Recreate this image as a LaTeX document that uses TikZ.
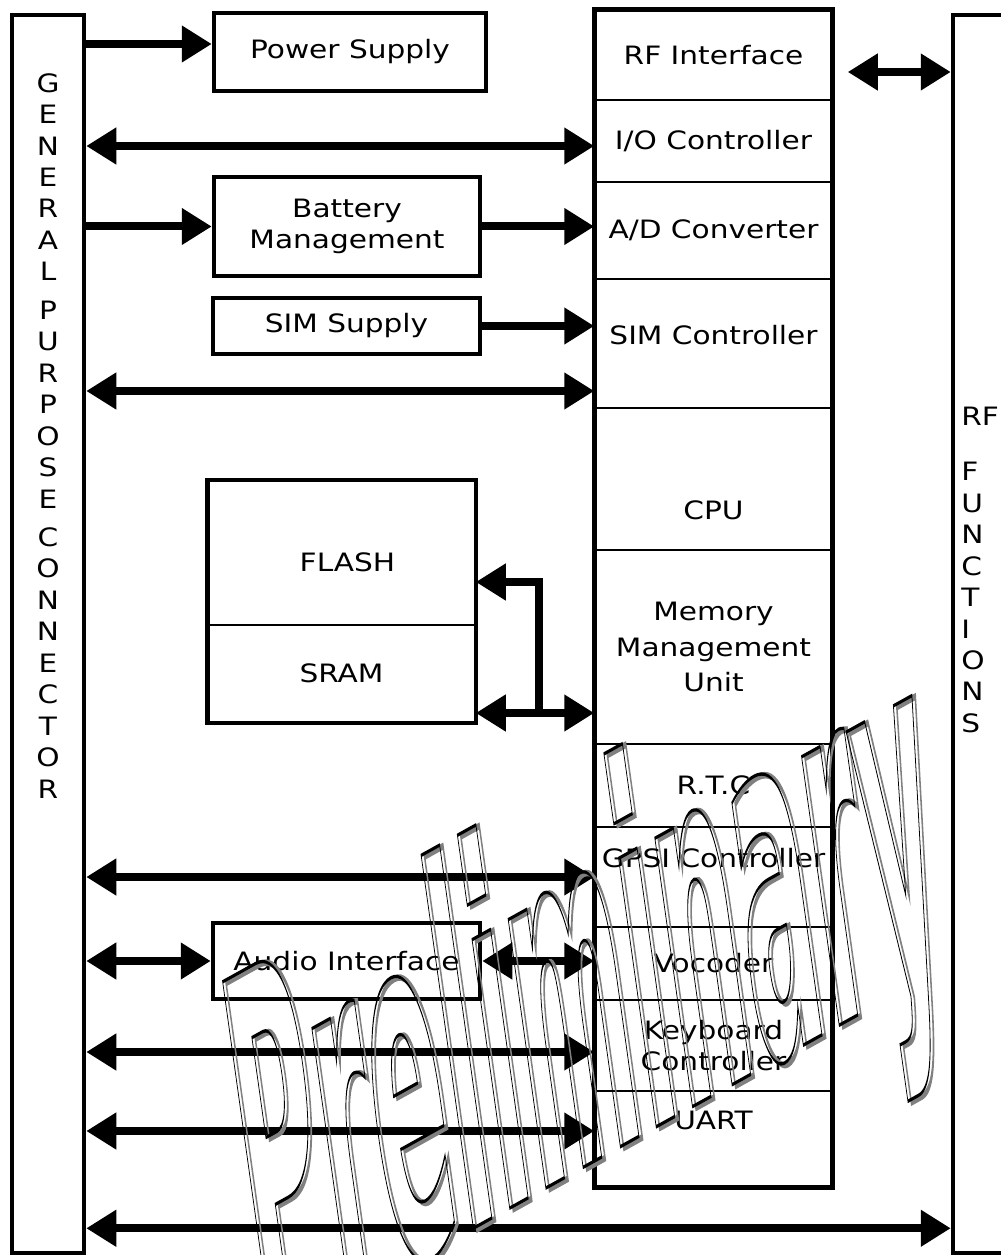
\documentclass[tikz,border=0pt]{standalone}
\usepackage{fontspec}
\setmainfont{DejaVu Sans}[FakeStretch=1.17]
\newfontfamily\wmfont{DejaVu Sans}
\usepackage{tikz}
\usetikzlibrary{arrows.meta,positioning}
% outlined text for the watermark (text render mode 1)
\newcommand{\outlineon}[1]{\special{pdf:literal direct 1 Tr #1 w}}
\newcommand{\outlineoff}{\special{pdf:literal direct 0 Tr}}

\begin{document}
\begin{tikzpicture}[x=0.2mm, y=-0.2mm,
    lbl/.style={font=\fontsize{14.4pt}{17.9pt}\selectfont, align=center},
    blk/.style={draw, line width=0.9mm, inner sep=0pt, lbl},
    sect/.style={draw, line width=0.3mm, inner sep=0pt, minimum width=47.4mm, lbl},
    bus/.style={line width=1.6mm, {Triangle[length=6mm, width=7mm]}-{Triangle[length=6mm, width=7mm]}},
    feed/.style={line width=1.6mm, -{Triangle[length=6mm, width=7mm]}},
    wm/.style={transform shape, anchor=base west, inner sep=0pt, font=\wmfont\bfseries\fontsize{301pt}{301pt}\selectfont}]
    \useasboundingbox (0,0) rectangle (1000,1255);

    % General purpose connector (left) and RF functions (right)
    \node[blk, minimum width=14.4mm, minimum height=247.6mm] (gpc) at (48,634) {};
    \node[lbl, anchor=north, inner sep=0pt] (gpclbl) at (48,73)
        {G\\E\\N\\E\\R\\A\\L\\[1.4mm]P\\U\\R\\P\\O\\S\\E\\[1.4mm]C\\O\\N\\N\\E\\C\\T\\O\\R};
    \node[blk, minimum width=20mm, minimum height=247.6mm] (rff) at (1003,634) {};
    \node[lbl, align=left, anchor=north west, inner sep=0pt] (rfflbl) at (961,407)
        {RF\\[4.7mm]F\\U\\N\\C\\T\\I\\O\\N\\S};

    % Blocks between the connector and the chip
    \node[blk, minimum width=54.4mm, minimum height=15.6mm] (pwr) at (350,52) {Power Supply};
    \node[blk, minimum width=53.2mm, minimum height=19.8mm] (bat) at (347,226.5) {Battery\\Management};
    \node[blk, minimum width=53.4mm, minimum height=11.2mm] (simsup) at (346.5,326) {SIM Supply};
    \node[sect, minimum width=53.4mm, minimum height=28.8mm, label={[lbl, xshift=1.2mm, yshift=-1.8mm]center:FLASH}] (flash) at (341.5,553) {};
    \node[sect, minimum width=53.4mm, minimum height=19.4mm] (sram) at (341.5,673.5) {SRAM};
    \draw[line width=0.9mm] (flash.north west) rectangle (sram.south east);
    \node[blk, minimum width=53.4mm, minimum height=15.2mm] (audio) at (346.5,961) {Audio Interface};

    % Chip sections
    \node[sect, minimum height=18mm] (rfi) at (713.5,55) {RF Interface};
    \node[sect, minimum height=16.4mm] (io) at (713.5,141) {I/O Controller};
    \node[sect, minimum height=19.4mm] (adc) at (713.5,230.5) {A/D Converter};
    \node[sect, minimum height=25.8mm, label={[lbl, yshift=1.7mm]center:SIM Controller}] (simc) at (713.5,343.5) {};
    \node[sect, minimum height=28.4mm, label={[lbl, yshift=-6.2mm]center:CPU}] (cpu) at (713.5,479) {};
    \node[sect, minimum height=38.8mm, font=\fontsize{14.4pt}{20.4pt}\selectfont] (mmu) at (713.5,647) {Memory\\Management\\Unit};
    \node[sect, minimum height=16.6mm] (rtc) at (713.5,785.5) {R.T.C};
    \node[sect, minimum height=20mm, label={[lbl, yshift=3.8mm]center:GPSI Controller}] (gpsi) at (713.5,877) {};
    \node[sect, minimum height=14.6mm] (voc) at (713.5,963.5) {Vocoder};
    \node[sect, minimum height=18.2mm] (kbd) at (713.5,1045.5) {Keyboard\\Controller};
    \node[sect, minimum height=19.2mm, label={[lbl, yshift=3.8mm]center:UART}] (uart) at (713.5,1139) {};
    \draw[line width=1mm] (rfi.north west) rectangle (uart.south east);

    % Arrows
    \coordinate (pwrin) at ([yshift=1.6mm]pwr.west);
    \draw[feed] (pwrin -| gpc.east) -- (pwrin);
    \coordinate (ioin) at ([yshift=-1mm]io.west);
    \draw[bus] (ioin -| gpc.east) -- (ioin);
    \draw[feed] (bat.west -| gpc.east) -- (bat.west);
    \draw[feed] (bat.east) -- (bat.east -| adc.west);
    \draw[feed] (simsup.east) -- (simsup.east -| simc.west);
    \coordinate (simin) at ([yshift=-9.5mm]simc.west);
    \draw[bus] (simin -| gpc.east) -- (simin);

    % memory bus
    \coordinate (sramout) at ([yshift=-7.9mm]sram.east);
    \coordinate (flashin) at ([yshift=-5.8mm]flash.east);
    \draw[bus] (sramout) -- (sramout -| mmu.west);
    \draw[feed] ([xshift=12.6mm]sramout) |- (flashin);

    \draw[bus] (gpsi.west -| gpc.east) -- (gpsi.west);
    \draw[bus] (audio.west -| gpc.east) -- (audio.west);
    \draw[bus] (audio.east) -- (audio.east -| voc.west);
    \coordinate (kbdin) at ([yshift=-1.3mm]kbd.west);
    \draw[bus] (kbdin -| gpc.east) -- (kbdin);
    \coordinate (uartin) at ([yshift=1.6mm]uart.west);
    \draw[bus] (uartin -| gpc.east) -- (uartin);
    \coordinate (rfbus) at ([yshift=5.4mm]gpc.south east);
    \draw[bus] (rfbus) -- (rfbus -| rff.west);
    \coordinate (rfout) at ([xshift=3mm, yshift=-3.4mm]rfi.east);
    \draw[bus] (rfout) -- (rfout -| rff.west);

    % Watermark
    \begin{scope}[shift={(263,1345)}, yslant=0.555, xslant=-0.13, xscale=0.2]
        \node[wm, text=gray] (wmshadow) at (15,3) {\outlineon{4}Preliminary\outlineoff};
        \node[wm] (wmtext) at (0,0) {\outlineon{2}Preliminary\outlineoff};
    \end{scope}
\end{tikzpicture}
\end{document}
